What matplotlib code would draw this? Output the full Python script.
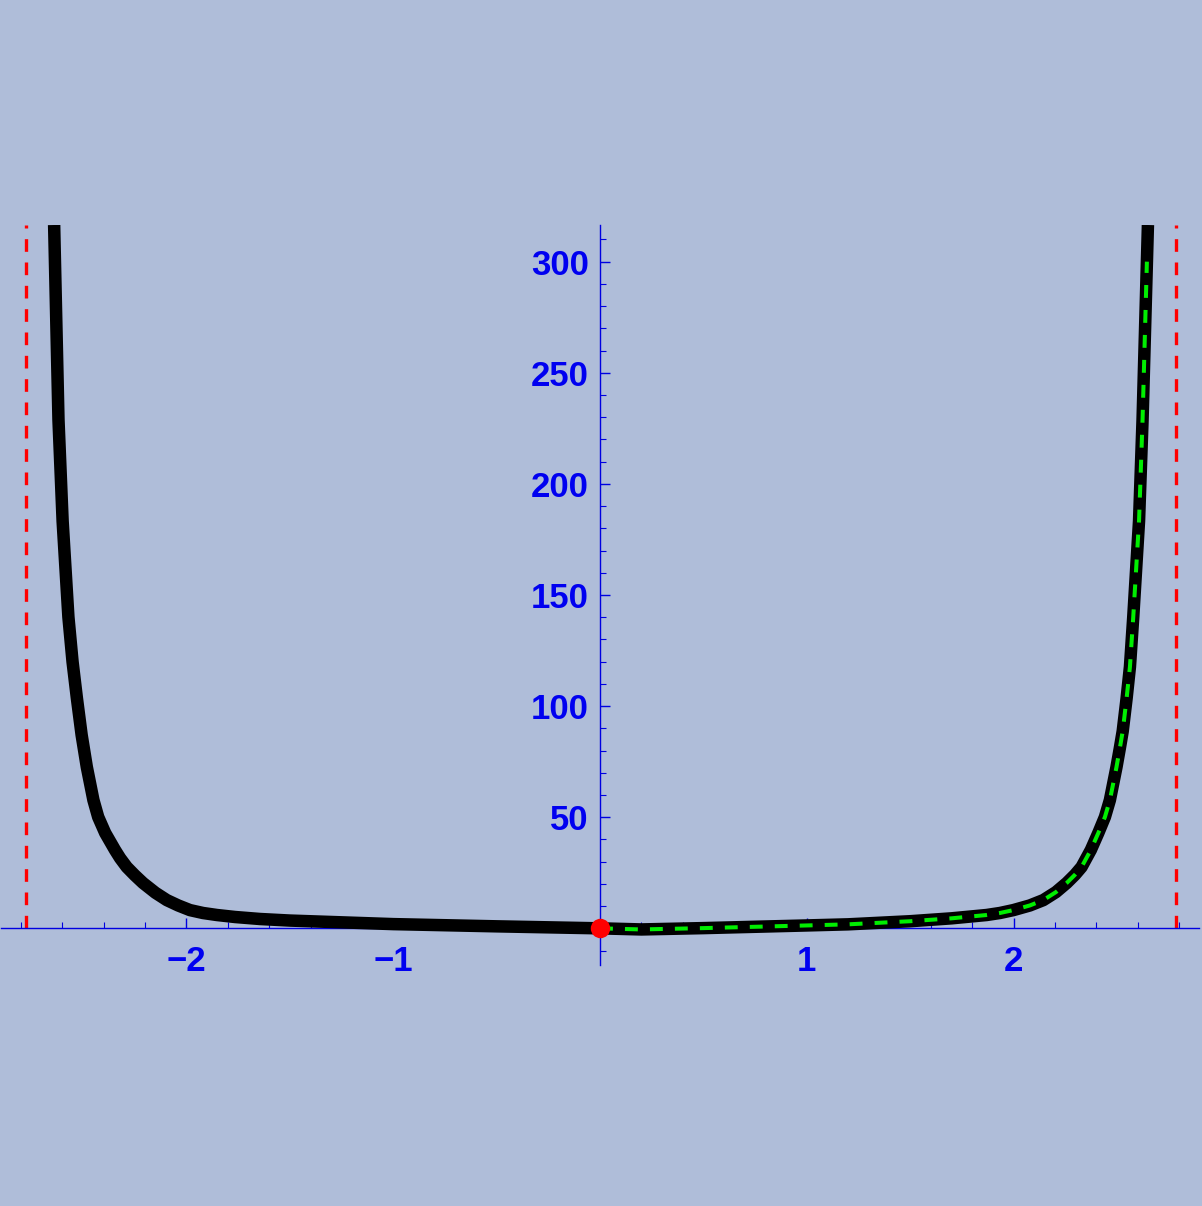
import matplotlib
matplotlib.use("Agg")
import matplotlib.pyplot as plt
from matplotlib.ticker import MultipleLocator, FixedLocator, FuncFormatter

# ---- data ----
left_x = [-2.640, -2.619, -2.599, -2.571, -2.551, -2.530, -2.507, -2.482, -2.450,
          -2.427, -2.393, -2.346, -2.321, -2.289, -2.250, -2.210, -2.150, -2.095,
          -2.040, -1.983, -1.920, -1.853, -1.765, -1.644, -1.5, -1.0, -0.5, 0.0]
left_y = [316.5, 228.8, 183.3, 140.1, 120.0, 103.6, 87.0, 72.6, 57.7,
          50.1, 42.9, 35.3, 31.6, 27.6, 23.9, 20.4, 16.0, 12.7,
          10.3, 8.2, 6.9, 6.0, 5.1, 4.2, 3.5, 1.9, 0.9, 0.0]

right_x = [0.0, 0.2, 0.5, 1.0, 1.2, 1.5, 1.7, 1.870, 1.934, 1.999, 2.079, 2.144,
           2.205, 2.257, 2.297, 2.329, 2.374, 2.410, 2.442, 2.466, 2.498, 2.514,
           2.528, 2.547, 2.563, 2.579, 2.607, 2.624, 2.650]
right_y = [0.0, -0.5, 0.1, 1.3, 1.8, 3.2, 4.5, 6.0, 6.9, 8.2, 10.3, 12.7,
           16.3, 20.4, 24.1, 27.6, 35.3, 42.9, 50.1, 57.7, 72.6, 81.0,
           88.7, 103.6, 117.7, 140.1, 183.3, 228.8, 316.5]

green_x = [0.0, 0.2, 0.5, 1.0, 1.2, 1.5, 1.7, 1.870, 1.934, 1.999, 2.079, 2.144,
           2.205, 2.257, 2.297, 2.329, 2.374, 2.410, 2.442, 2.466, 2.498, 2.514,
           2.528, 2.547, 2.563, 2.579, 2.607, 2.624, 2.645]
green_y = [0.0, -0.5, 0.1, 1.3, 1.8, 3.2, 4.5, 6.0, 6.9, 8.2, 10.3, 12.7,
           16.3, 20.4, 24.1, 27.6, 35.3, 42.9, 50.1, 57.7, 72.6, 81.0,
           88.7, 103.6, 117.7, 140.1, 183.3, 228.8, 300.0]

asymptotes = [-2.778, 2.785]
point_x = [0.0]
point_y = [0.0]

x_major = [-2, -1, 1, 2]
y_major = [50, 100, 150, 200, 250, 300]
xlim = (-2.897, 2.897)
ylim = (-16.5, 316.5)

# ---- styling ----
bg = "#AFBDD9"
axcol = "#0000E0"
labcol = "#0000F0"

fig = plt.figure(figsize=(12.02, 12.06), dpi=100)
fig.patch.set_facecolor(bg)
ax = fig.add_axes([1 / 1202, 1 - 965 / 1206, 1198 / 1202, (965 - 225) / 1206])
ax.set_facecolor(bg)
ax.set_xlim(*xlim)
ax.set_ylim(*ylim)

for s in ["top", "right"]:
    ax.spines[s].set_visible(False)
ax.spines["bottom"].set_position(("data", 0))
ax.spines["left"].set_position(("data", 0))
for s in ["bottom", "left"]:
    ax.spines[s].set_color(axcol)
    ax.spines[s].set_linewidth(1.0)

# asymptotes
for a in asymptotes:
    ax.plot([a, a], [0, ylim[1]], color="#FF0000", lw=2.4,
            dashes=(3.8, 3.2), zorder=2, dash_capstyle="butt")

ax.plot(left_x, left_y, color="black", lw=9, zorder=3,
        solid_joinstyle="round", solid_capstyle="butt")
ax.plot(right_x, right_y, color="black", lw=9, zorder=3,
        solid_joinstyle="round", solid_capstyle="butt")
ax.plot(green_x, green_y, color="#00EE00", lw=2.9, dashes=(3.2, 3.0), zorder=4,
        dash_capstyle="butt", dash_joinstyle="round")
ax.plot(point_x, point_y, "o", color="#FF0000", ms=14, mec="none", zorder=5,
        clip_on=False)

ax.xaxis.set_major_locator(FixedLocator(x_major))
ax.xaxis.set_minor_locator(MultipleLocator(0.2))
ax.yaxis.set_major_locator(FixedLocator(y_major))
ax.yaxis.set_minor_locator(MultipleLocator(10))

fmt = FuncFormatter(lambda v, p: ("\u2212%d" % abs(v)) if v < 0 else "%d" % v)
ax.xaxis.set_major_formatter(fmt)
ax.yaxis.set_major_formatter(fmt)

ax.tick_params(axis="both", which="major", direction="in", length=7, width=1,
               color=axcol, labelcolor=labcol, labelsize=25)
ax.tick_params(axis="both", which="minor", direction="in", length=4, width=0.8,
               color=axcol)
ax.tick_params(axis="x", which="major", pad=12)
ax.tick_params(axis="y", which="major", pad=8)
for lab in ax.get_xticklabels() + ax.get_yticklabels():
    lab.set_fontfamily("Liberation Sans")
    lab.set_fontweight("bold")

fig.savefig("out.png", dpi=100, facecolor=bg)
